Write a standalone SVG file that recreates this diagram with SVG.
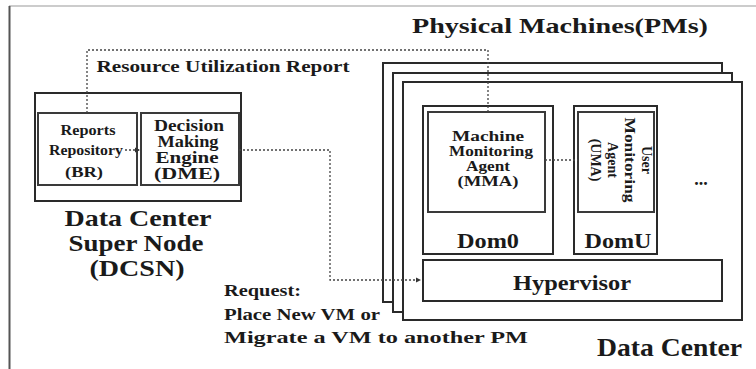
<svg xmlns="http://www.w3.org/2000/svg" width="756" height="369" viewBox="0 0 756 369">
<style>
.box{fill:#fff;stroke:#2a2a2a;stroke-width:2}
.inner{fill:#fff;stroke:#3a3a3a;stroke-width:2}
.t{font-family:"Liberation Serif","Times New Roman",serif;font-weight:bold;fill:#1a1a1a;text-anchor:middle}
.s{text-anchor:start}
.dot{fill:none;stroke:#444;stroke-width:1.3;stroke-dasharray:2 2}
</style>
<defs>
<marker id="ah" markerWidth="6" markerHeight="6" refX="5" refY="3" orient="auto" markerUnits="userSpaceOnUse">
<path d="M0,0.5 L5,3 L0,5.5 Z" fill="#333"/>
</marker>
</defs>
<rect width="756" height="369" fill="#fff"/>
<g id="frame">
<line x1="9" y1="6" x2="756" y2="6" stroke="#bbb" stroke-width="1.5"/>
<line x1="9.5" y1="6" x2="9.5" y2="369" stroke="#555" stroke-width="2"/>
</g>
<g id="dcsn">
<rect class="box" x="35" y="93" width="206" height="108"/>
<text class="t" x="138" y="226" font-size="24" textLength="147" lengthAdjust="spacingAndGlyphs">Data Center</text>
<text class="t" x="136" y="251" font-size="24" textLength="135" lengthAdjust="spacingAndGlyphs">Super Node</text>
<text class="t" x="137" y="276" font-size="24" textLength="95" lengthAdjust="spacingAndGlyphs">(DCSN)</text>
</g>
<g id="br">
<rect class="inner" x="38" y="113" width="99" height="72"/>
<text class="t" x="88" y="135" font-size="15" textLength="55" lengthAdjust="spacingAndGlyphs">Reports</text>
<text class="t" x="86" y="155" font-size="15" textLength="74" lengthAdjust="spacingAndGlyphs">Repository</text>
<text class="t" x="84" y="177" font-size="15" textLength="38" lengthAdjust="spacingAndGlyphs">(BR)</text>
</g>
<g id="dme">
<rect class="inner" x="141" y="113" width="98" height="72"/>
<text class="t" x="189" y="131" font-size="16" textLength="70" lengthAdjust="spacingAndGlyphs">Decision</text>
<text class="t" x="188" y="147" font-size="16" textLength="61" lengthAdjust="spacingAndGlyphs">Making</text>
<text class="t" x="187" y="163" font-size="16" textLength="63" lengthAdjust="spacingAndGlyphs">Engine</text>
<text class="t" x="187" y="179" font-size="16" textLength="66" lengthAdjust="spacingAndGlyphs">(DME)</text>
</g>
<g id="pm-back">
<rect class="box" x="383" y="63" width="339" height="239"/>
</g>
<g id="pm-mid">
<rect class="box" x="393" y="73" width="339" height="239"/>
</g>
<g id="pm-front">
<rect class="box" x="403" y="82" width="339" height="238"/>
<text class="t" x="701" y="185" font-size="18">...</text>
</g>
<g id="dom0">
<rect class="box" x="423" y="106" width="130" height="148"/>
<text class="t" x="488" y="248" font-size="22" textLength="62" lengthAdjust="spacingAndGlyphs">Dom0</text>
</g>
<g id="mma">
<rect class="inner" x="428" y="112" width="117" height="100"/>
<text class="t" x="488" y="141" font-size="15" textLength="72" lengthAdjust="spacingAndGlyphs">Machine</text>
<text class="t" x="491" y="156" font-size="15" textLength="84" lengthAdjust="spacingAndGlyphs">Monitoring</text>
<text class="t" x="488" y="171" font-size="15" textLength="44" lengthAdjust="spacingAndGlyphs">Agent</text>
<text class="t" x="488" y="186" font-size="15" textLength="61" lengthAdjust="spacingAndGlyphs">(MMA)</text>
</g>
<g id="domu">
<rect class="box" x="574" y="106" width="83" height="148"/>
<text class="t" x="618" y="248" font-size="22" textLength="67" lengthAdjust="spacingAndGlyphs">DomU</text>
</g>
<g id="uma">
<rect class="inner" x="578" y="112" width="76" height="100"/>
<g transform="translate(616,160) rotate(90)">
<text class="t" x="0" y="-26" font-size="14">User</text>
<text class="t" x="0" y="-9" font-size="14" textLength="85" lengthAdjust="spacingAndGlyphs">Monitoring</text>
<text class="t" x="0" y="8" font-size="14">Agent</text>
<text class="t" x="0" y="25" font-size="14">(UMA)</text>
</g>
</g>
<g id="hypervisor">
<rect class="box" x="423" y="260" width="299" height="41" stroke-width="1.5"/>
<text class="t" x="572" y="290" font-size="22" textLength="118" lengthAdjust="spacingAndGlyphs">Hypervisor</text>
</g>
<g id="labels">
<text class="t" x="560" y="33" font-size="21" textLength="296" lengthAdjust="spacingAndGlyphs">Physical Machines(PMs)</text>
<text class="t" x="223" y="72" font-size="16" textLength="253" lengthAdjust="spacingAndGlyphs">Resource Utilization Report</text>
<text class="t s" x="224" y="296" font-size="17" textLength="77" lengthAdjust="spacingAndGlyphs">Request:</text>
<text class="t s" x="224" y="320" font-size="17" textLength="156" lengthAdjust="spacingAndGlyphs">Place New VM or</text>
<text class="t s" x="224" y="343" font-size="17" textLength="304" lengthAdjust="spacingAndGlyphs">Migrate a VM to another PM</text>
<text class="t" x="742" y="356" font-size="25" textLength="145" lengthAdjust="spacingAndGlyphs" style="text-anchor:end">Data Center</text>
</g>
<g id="connectors">
<polyline class="dot" points="87,113 87,50 488,50 488,112"/>
<line class="dot" x1="125" y1="150" x2="140" y2="150" marker-end="url(#ah)"/>
<polyline class="dot" points="239,150 330,150 330,280 421,280" marker-end="url(#ah)"/>
<line class="dot" x1="545" y1="160" x2="578" y2="160"/>
</g>
</svg>
